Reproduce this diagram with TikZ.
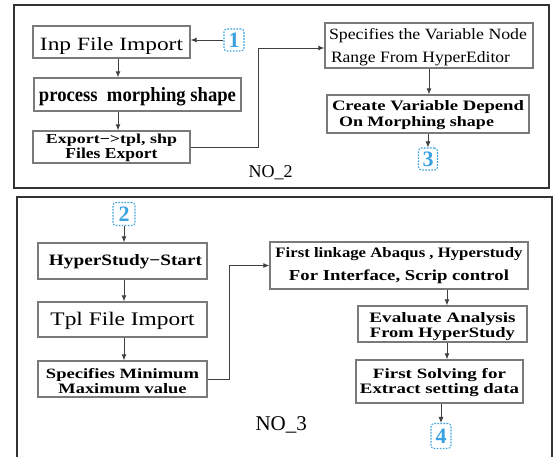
\documentclass[tikz,border=0pt]{standalone}
\usepackage{fontspec}
\setmainfont{Liberation Serif}
\usetikzlibrary{arrows.meta}
\definecolor{mk}{HTML}{3AA2E0}
\definecolor{bxc}{HTML}{7A7A7A}
\definecolor{pan}{HTML}{333333}
\definecolor{ln}{HTML}{404040}
\newcommand\Fit[3]{\resizebox{#1pt}{#2pt}{#3}}
\newcommand\OneL[2]{\raisebox{0pt}[#1pt][0pt]{#2}}
\newcommand\TwoL[4]{\raisebox{0pt}[#1pt][0pt]{\vbox{\baselineskip=#2pt\lineskiplimit=-50pt\lineskip=0pt #3#4}}}
\newcommand\Cl[2]{\hbox to #1pt{\hss#2\hss}}
\newcommand\Ll[2]{\hbox to #1pt{#2\hss}}
\tikzset{
  bx/.style={draw=bxc, line width=1.3pt, inner sep=0pt, fill=white},
  mkr/.style={draw=mk, text=mk, dash pattern=on 1.6pt off 1.4pt, line width=1.1pt,
    rounded corners=3pt, inner sep=0pt, font=\fontsize{22}{22}\selectfont\bfseries},
  arr/.style={draw=ln, line width=0.9pt, -{Latex[length=6pt,width=5pt]}},
  pnl/.style={draw=pan, line width=2.2pt}
}
\begin{document}
\begin{tikzpicture}[x=1pt,y=-1pt]
\useasboundingbox (0,0) rectangle (560,456);
\fill[white] (0,0) rectangle (560,456);
% panels
\draw[pnl] (14,5) rectangle (549,188);
\draw[pnl] (17,457) -- (17,197) -- (552,197) -- (552,457);
% NO_2 boxes
\node[bx, minimum width=157pt, minimum height=32pt] (b1) at (111.5,42)
  {\OneL{16}{\Fit{143}{13}{Inp File Import}}};
\node[bx, minimum width=207pt, minimum height=33pt] (b2) at (137.5,94.5)
  {\OneL{13}{\Fit{197}{14}{\bfseries process~~morphing shape}}};
\node[bx, minimum width=157pt, minimum height=32pt] (b3) at (111.5,147)
  {\TwoL{22.6}{15}{\Cl{135}{\Fit{131}{9.5}{\bfseries Export−>tpl, shp}}}{\Cl{135}{\Fit{92}{10.5}{\bfseries Files Export}}}};
\node[bx, minimum width=208pt, minimum height=45pt] (b4) at (429,45.5)
  {\TwoL{34.4}{23.4}{\Ll{200}{\Fit{198}{11}{Specifies the Variable Node}}}{\Ll{200}{\hspace*{2pt}\Fit{179}{11}{Range From HyperEditor}}}};
\node[bx, minimum width=202pt, minimum height=38pt] (b5) at (428,114)
  {\TwoL{25.4}{16.7}{\Ll{192}{\Fit{192}{10}{\bfseries Create Variable Depend}}}{\Ll{192}{\hspace*{7pt}\Fit{155}{10}{\bfseries On Morphing shape}}}};
\node[mkr, minimum width=20pt, minimum height=22pt] (m1) at (234,40) {1};
\node[mkr, minimum width=19pt, minimum height=22pt] (m3) at (428,159) {3};
\node[anchor=base west, font=\fontsize{18}{18}\selectfont] (no2) at (245,177) {NO\_2};
% NO_3 boxes
\node[mkr, minimum width=22pt, minimum height=23pt] (m2) at (124,214) {2};
\node[bx, minimum width=169pt, minimum height=36pt] (b6) at (122.5,261)
  {\OneL{8}{\hspace*{6pt}\Fit{153}{11}{\bfseries HyperStudy−Start}}};
\node[bx, minimum width=169pt, minimum height=35pt] (b7) at (122.5,319.5)
  {\OneL{11}{\Fit{144}{13.3}{Tpl File Import}}};
\node[bx, minimum width=169pt, minimum height=36pt] (b8) at (122.5,379)
  {\TwoL{28.6}{15}{\Cl{155}{\Fit{153}{10}{\bfseries Specifies Minimum}}}{\Cl{155}{\Fit{128}{10}{\bfseries Maximum value}}}};
\node[bx, minimum width=258pt, minimum height=47pt] (b9) at (399,265.5)
  {\TwoL{29}{22.7}{\Cl{250}{\Fit{247}{10}{\bfseries First linkage Abaqus , Hyperstudy}}}{\Cl{250}{\Fit{220}{10.7}{\bfseries For Interface, Scrip control}}}};
\node[bx, minimum width=169pt, minimum height=36pt] (b10) at (442.5,324)
  {\TwoL{26}{15}{\Cl{150}{\Fit{146}{10}{\bfseries Evaluate Analysis}}}{\Cl{150}{\Fit{145}{10}{\bfseries From HyperStudy}}}};
\node[bx, minimum width=167pt, minimum height=43pt] (b11) at (439.5,381.5)
  {\TwoL{23}{15}{\Cl{160}{\Fit{133}{10}{\bfseries First Solving for}}}{\Cl{160}{\Fit{159}{10}{\bfseries Extract setting data}}}};
\node[mkr, minimum width=20pt, minimum height=25pt] (m4) at (441,436) {4};
\node[anchor=base west, font=\fontsize{21}{21}\selectfont] (no3) at (252,430) {NO\_3};
% connectors NO_2
\draw[arr] (m1.west) -- (m1.west -| b1.east);
\draw[arr] ([xshift=6.5pt]b1.south) -- ([xshift=6.5pt]b1.south |- b2.north);
\draw[arr] ([xshift=6.5pt]b1.south |- b2.south) -- ([xshift=6.5pt]b1.south |- b3.north);
\draw[arr] (b3.east) -- ++(68,0) |- ([yshift=-2.5pt]b4.west);
\draw[arr] (b4.south) -- (b4.south |- b5.north);
\draw[arr] (b5.south) -- (m3.north);
% connectors NO_3
\draw[arr] (m2.south) -- (m2.south |- b6.north);
\draw[arr] ([xshift=1.5pt]b6.south) -- ([xshift=1.5pt]b7.north);
\draw[arr] ([xshift=1.5pt]b7.south) -- ([xshift=1.5pt]b8.north);
\draw[arr] (b8.east) -- ++(22,0) |- (b9.west);
\draw[arr] ([xshift=4.5pt]b10.north |- b9.south) -- ([xshift=4.5pt]b10.north);
\draw[arr] ([xshift=4.5pt]b10.south) -- ([xshift=4.5pt]b10.south |- b11.north);
\draw[arr] (m4.north |- b11.south) -- (m4.north);
\end{tikzpicture}
\end{document}
